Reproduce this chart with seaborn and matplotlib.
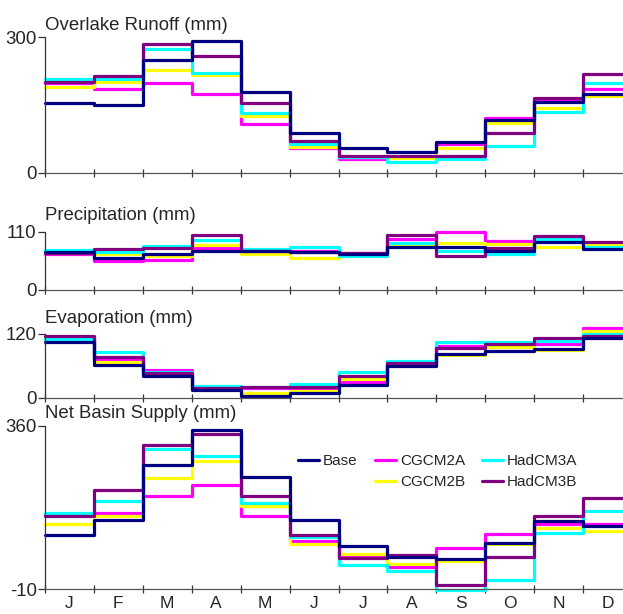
import matplotlib
matplotlib.use("Agg")
import matplotlib.pyplot as plt
from matplotlib.lines import Line2D
import pandas as pd
import seaborn as sns

# ---- data ----
months = ["J", "F", "M", "A", "M", "J", "J", "A", "S", "O", "N", "D"]
series = ["CGCM2A", "CGCM2B", "HadCM3A", "HadCM3B", "Base"]

runoff_base = [153, 149, 249, 292, 179, 88, 54, 46, 68, 116, 157, 175]
runoff_cgcm2a = [198, 186, 198, 174, 107, 54, 31, 35, 63, 122, 160, 186]
runoff_cgcm2b = [190, 201, 228, 215, 126, 57, 34, 32, 54, 110, 142, 170]
runoff_hadcm3a = [207, 207, 273, 221, 132, 63, 35, 24, 31, 60, 135, 199]
runoff_hadcm3b = [201, 213, 285, 257, 154, 69, 38, 38, 38, 88, 166, 218]

precip_base = [72, 61, 67, 74, 74, 72, 68, 81, 82, 74, 90, 77]
precip_cgcm2a = [68, 55, 57, 80, 72, 74, 70, 97, 109, 93, 99, 87]
precip_cgcm2b = [70, 68, 64, 85, 68, 61, 70, 86, 89, 86, 81, 86]
precip_hadcm3a = [76, 72, 83, 95, 78, 81, 64, 89, 74, 68, 96, 82]
precip_hadcm3b = [70, 77, 80, 104, 74, 71, 70, 104, 64, 80, 102, 91]

evap_base = [105, 61, 41, 15, 2, 8, 23, 60, 82, 88, 92, 112]
evap_cgcm2a = [114, 73, 51, 19, 18, 17, 30, 66, 96, 97, 101, 130]
evap_cgcm2b = [112, 67, 46, 16, 9, 13, 35, 62, 79, 95, 90, 126]
evap_hadcm3a = [110, 85, 48, 22, 20, 25, 48, 69, 105, 105, 106, 120]
evap_hadcm3b = [116, 76, 46, 17, 20, 20, 41, 65, 94, 100, 111, 115]

nbs_base = [113, 146, 272, 352, 244, 146, 88, 64, 59, 96, 145, 134]
nbs_cgcm2a = [158, 164, 202, 226, 155, 99, 64, 41, 83, 116, 139, 139]
nbs_cgcm2b = [139, 155, 243, 281, 179, 93, 69, 47, 53, 92, 130, 122]
nbs_hadcm3a = [162, 191, 307, 292, 185, 108, 45, 31, -12, 11, 118, 168]
nbs_hadcm3b = [155, 215, 318, 342, 201, 113, 60, 67, 0, 63, 157, 196]

panels = [
    ("Overlake Runoff (mm)", (0, 300),
     [runoff_cgcm2a, runoff_cgcm2b, runoff_hadcm3a, runoff_hadcm3b, runoff_base]),
    ("Precipitation (mm)", (0, 110),
     [precip_cgcm2a, precip_cgcm2b, precip_hadcm3a, precip_hadcm3b, precip_base]),
    ("Evaporation (mm)", (0, 120),
     [evap_cgcm2a, evap_cgcm2b, evap_hadcm3a, evap_hadcm3b, evap_base]),
    ("Net Basin Supply (mm)", (-10, 360),
     [nbs_cgcm2a, nbs_cgcm2b, nbs_hadcm3a, nbs_hadcm3b, nbs_base]),
]

palette = {"Base": "#000080", "CGCM2A": "#FF00FF", "CGCM2B": "#FFFF00",
           "HadCM3A": "#00FFFF", "HadCM3B": "#800080"}

sns.set_theme(style="white")
plt.rcParams["font.family"] = ["Liberation Sans", "DejaVu Sans"]

W, H = 623, 614
fig = plt.figure(figsize=(W / 100, H / 100), dpi=100)

# axes placement in pixels: (top, bottom), title baseline
boxes = [(37, 172.7, 30), (231.8, 289.6, 219.8), (333.7, 397.5, 322.6), (426, 589.3, 418.3)]
x_left, x_right = 45, 632

axes = []
for (title, ylim, vals), (top, bot, tbase) in zip(panels, boxes):
    ax = fig.add_axes([x_left / W, (H - bot) / H, (x_right - x_left) / W, (bot - top) / H])
    rows = []
    for name, v in zip(series, vals):
        ext = list(v) + [v[-1]]
        for i, y in enumerate(ext):
            rows.append({"pos": i, "val": y, "series": name})
    df = pd.DataFrame(rows)
    sns.lineplot(data=df, x="pos", y="val", hue="series", hue_order=series,
                 palette=palette, drawstyle="steps-post", estimator=None,
                 errorbar=None, legend=False, linewidth=2.3, ax=ax, clip_on=False)
    ax.set_xlim(0, 12)
    ax.set_ylim(*ylim)
    ax.set_yticks(list(ylim))
    ax.set_yticklabels([str(t) for t in ylim])
    ax.set_xticks(range(13))
    ax.set_xticklabels([])
    ax.set_xlabel("")
    ax.set_ylabel("")
    for s in ["top", "right"]:
        ax.spines[s].set_visible(False)
    ax.spines["left"].set_color("#333333")
    ax.spines["bottom"].set_color("#555555")
    ax.spines["left"].set_linewidth(0.9)
    ax.spines["bottom"].set_linewidth(0.9)
    ax.tick_params(axis="y", direction="out", length=5, width=0.9, color="#333333",
                   labelsize=13.4, pad=1, left=True)
    ax.tick_params(axis="x", direction="inout", length=6, width=0.9, color="#333333",
                   bottom=True)
    fig.text(x_left / W, (H - tbase) / H, title, fontsize=13.4, va="baseline", ha="left")
    axes.append(ax)

# month labels on the bottom panel, centred between ticks
ax4 = axes[-1]
ax4.set_xticks([i + 0.5 for i in range(12)], minor=True)
ax4.set_xticklabels(months, minor=True)
ax4.tick_params(axis="x", which="minor", length=0, labelsize=12.5, pad=5)

handles = [Line2D([], [], color=palette["Base"], lw=2.3),
           Line2D([], [], color="none"),
           Line2D([], [], color=palette["CGCM2A"], lw=2.3),
           Line2D([], [], color=palette["CGCM2B"], lw=2.3),
           Line2D([], [], color=palette["HadCM3A"], lw=2.3),
           Line2D([], [], color=palette["HadCM3B"], lw=2.3)]
labels = ["Base", "", "CGCM2A", "CGCM2B", "HadCM3A", "HadCM3B"]
fig.legend(handles, labels, ncol=3, loc="upper left",
           bbox_to_anchor=(298 / W, (H - 454) / H), bbox_transform=fig.transFigure,
           frameon=False, fontsize=11, handlelength=1.4, handletextpad=0.25,
           columnspacing=1.1, labelspacing=0.45, borderpad=0, borderaxespad=0)

fig.savefig("out.png", dpi=100)
